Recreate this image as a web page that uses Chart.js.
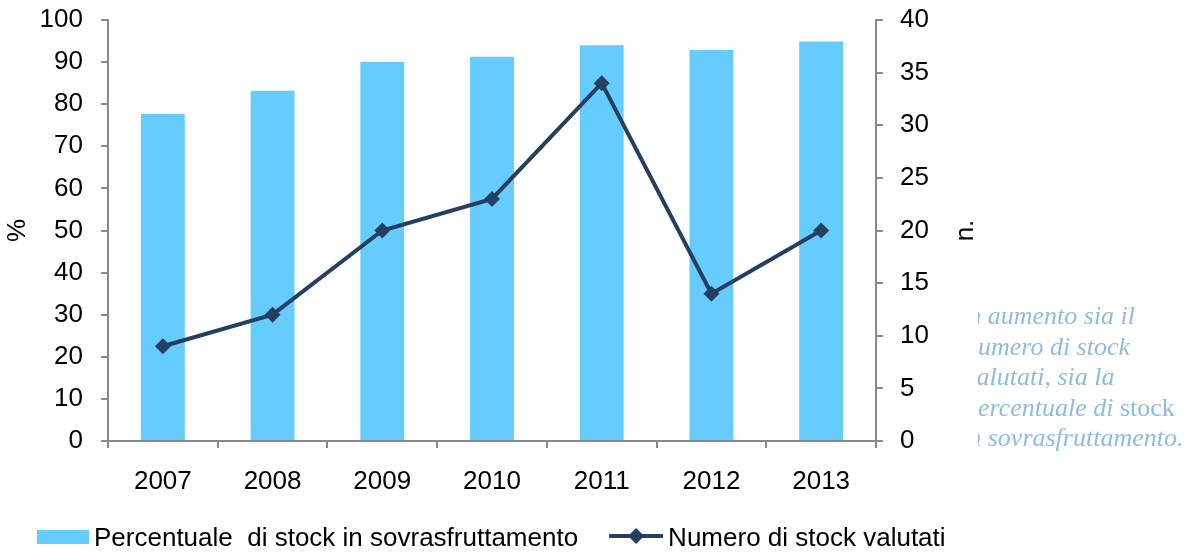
<!DOCTYPE html>
<html lang="it">
<head>
<meta charset="UTF-8">
<title>Stock valutati e in sovrasfruttamento</title>
<script src="https://cdn.jsdelivr.net/npm/chart.js"></script>
<style>
  body { margin: 0; background: #fff; }
  #wrap { position: relative; width: 1195px; height: 552px; }
  #note {
    position: absolute; left: 978px; top: 301px; width: 217px; overflow: hidden;
    font-family: "Liberation Serif", "DejaVu Serif", serif; font-style: italic;
    font-size: 26px; line-height: 30.5px; color: #8fbbe0; white-space: nowrap;
  }
  #note .up { font-style: normal; }
</style>
</head>
<body>
<div id="wrap">
  <canvas id="chart" width="1195" height="552"></canvas>
  <div id="note">
    <div style="margin-left:-17px">in aumento sia il</div>
    <div style="margin-left:-13px">numero di stock</div>
    <div style="margin-left:-13px">valutati, sia la</div>
    <div style="margin-left:-13px">percentuale di <span class="up">stock</span></div>
    <div style="margin-left:-17px">in sovrasfruttamento.</div>
  </div>
</div>

<script>
// dati
const years = ['2007', '2008', '2009', '2010', '2011', '2012', '2013'];
const pctOverfished = [77.7, 83.2, 90, 91.3, 94, 92.9, 94.9];
const stocksAssessed = [9, 12, 20, 23, 34, 14, 20];

const barColor = '#66ccff';
const lineColor = '#243f60';
const axisColor = '#898989';
const font = '"Liberation Sans", Arial, sans-serif';

Chart.defaults.font.family = font;
Chart.defaults.font.size = 26;
Chart.defaults.color = '#000';

// titolo asse destro e legenda disegnati a mano
const extras = {
  id: 'extras',
  afterDraw(chart) {
    const ctx = chart.ctx;
    const area = chart.chartArea;
    const ds = chart.data.datasets;

    ctx.save();
    ctx.font = '26px ' + font;
    ctx.fillStyle = '#000';
    ctx.textAlign = 'center';
    ctx.textBaseline = 'middle';
    ctx.translate(chart.scales.y1.right - 10, (area.top + area.bottom) / 2);
    ctx.rotate(-Math.PI / 2);
    ctx.fillText('n.', 0, 0);
    ctx.restore();

    ctx.save();
    ctx.font = '26px ' + font;
    ctx.textBaseline = 'alphabetic';
    const y = 546;
    let x = 37;
    ctx.fillStyle = barColor;
    ctx.fillRect(x, 530, 52, 14);
    ctx.fillStyle = '#000';
    ctx.fillText(ds[1].label, x + 57, y);
    x = x + 57 + ctx.measureText(ds[1].label).width + 31;
    ctx.strokeStyle = lineColor;
    ctx.lineWidth = 4;
    ctx.beginPath();
    ctx.moveTo(x, 536);
    ctx.lineTo(x + 54, 536);
    ctx.stroke();
    ctx.fillStyle = lineColor;
    ctx.beginPath();
    ctx.moveTo(x + 27, 528);
    ctx.lineTo(x + 35, 536);
    ctx.lineTo(x + 27, 544);
    ctx.lineTo(x + 19, 536);
    ctx.closePath();
    ctx.fill();
    ctx.fillStyle = '#000';
    ctx.fillText(ds[0].label, x + 59, y);
    ctx.restore();
  }
};

const fitY = w => s => { s.width = w; s.paddingTop = 0; s.paddingBottom = 0; };

const ctx = document.getElementById('chart').getContext('2d');
const chart = new Chart(ctx, {
  type: 'bar',
  data: {
    labels: years,
    datasets: [{
      type: 'line',
      label: 'Numero di stock valutati',
      data: stocksAssessed,
      yAxisID: 'y1',
      borderColor: lineColor,
      backgroundColor: lineColor,
      borderWidth: 4,
      pointStyle: 'rectRot',
      pointRadius: 8,
      pointBorderWidth: 0,
      tension: 0,
      order: 0
    }, {
      type: 'bar',
      label: 'Percentuale  di stock in sovrasfruttamento',
      data: pctOverfished,
      yAxisID: 'y',
      backgroundColor: barColor,
      categoryPercentage: 1,
      barPercentage: 0.4,
      order: 1
    }]
  },
  options: {
    responsive: false,
    animation: false,
    layout: { padding: { top: 20, right: 219, bottom: 0, left: 0 } },
    plugins: {
      legend: { display: false },
      tooltip: { enabled: false }
    },
    scales: {
      x: {
        offset: true,
        grid: { offset: true, drawOnChartArea: false, color: axisColor, lineWidth: 2, tickLength: 7 },
        border: { color: axisColor, width: 2 },
        ticks: { padding: 18, maxRotation: 0 },
        afterFit: s => { s.height = 111; }
      },
      y: {
        position: 'left',
        min: 0, max: 100,
        ticks: { stepSize: 10, padding: 18 },
        grid: { drawOnChartArea: false, color: axisColor, lineWidth: 2, tickLength: 7 },
        border: { color: axisColor, width: 2 },
        title: { display: true, text: '%', padding: { top: 2, bottom: 0 } },
        afterFit: fitY(108)
      },
      y1: {
        position: 'right',
        min: 0, max: 40,
        ticks: { stepSize: 5, padding: 17 },
        grid: { drawOnChartArea: false, color: axisColor, lineWidth: 2, tickLength: 7 },
        border: { color: axisColor, width: 2 },
        afterFit: fitY(100)
      }
    }
  },
  plugins: [extras]
});
</script>
</body>
</html>
